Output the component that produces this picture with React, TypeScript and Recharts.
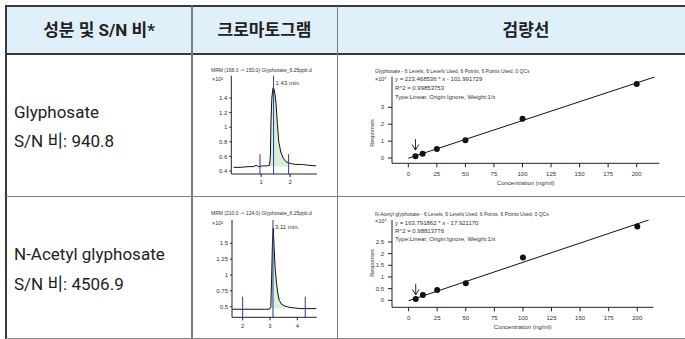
import React from 'react';
import {
  ComposedChart,
  ScatterChart,
  Scatter,
  Line,
  Area,
  XAxis,
  YAxis,
  ReferenceLine,
  ReferenceDot,
} from 'recharts';

// chromatogram 1 - MRM 168 -> 150 (x10^2)
const chrom1Time = [0.05, 0.3, 0.55, 0.75, 0.83, 0.9, 1.05, 1.2, 1.29, 1.32, 1.34, 1.37, 1.41, 1.44, 1.48, 1.52, 1.56, 1.61, 1.68, 1.76, 1.85, 1.95, 2.05, 2.2, 2.4, 2.6, 2.9];
const chrom1Signal = [0.45, 0.45, 0.46, 0.46, 0.48, 0.46, 0.47, 0.47, 0.48, 0.6, 1.07, 1.4, 1.54, 1.53, 1.45, 1.3, 1.05, 0.8, 0.66, 0.58, 0.53, 0.51, 0.5, 0.49, 0.49, 0.48, 0.47];
const chrom1Peak = [1.29, 1.95];
const chrom1Marks = [0.96, 1.95];
const chrom1XTicks = [1, 2];
const chrom1YTicks = [0.4, 0.6, 0.8, 1, 1.2, 1.4];

// chromatogram 2 - MRM 210 -> 124 (x10^2)
const chrom2Time = [1.62, 1.9, 2.2, 2.5, 2.8, 2.98, 3.03, 3.06, 3.09, 3.12, 3.15, 3.19, 3.24, 3.29, 3.34, 3.42, 3.55, 3.7, 3.9, 4.1, 4.3, 4.5, 4.7];
const chrom2Signal = [0.46, 0.46, 0.46, 0.46, 0.46, 0.46, 0.5, 0.95, 1.5, 1.74, 1.45, 1.1, 0.87, 0.7, 0.6, 0.54, 0.51, 0.49, 0.48, 0.47, 0.47, 0.47, 0.47];
const chrom2Peak = [3.02, 3.6];
const chrom2Marks = [2.0, 4.29];
const chrom2XTicks = [2, 3, 4];
const chrom2YTicks = [0.5, 0.75, 1, 1.25, 1.5];

// calibration (x10^4 responses)
const calConc = [6.25, 12.5, 25, 50, 100, 200];
const glyResp = [0.1, 0.25, 0.53, 1.05, 2.33, 4.38];
const acetylResp = [0.06, 0.23, 0.44, 0.73, 1.83, 3.16];
const glyFitX = [0, 216];
const glyFitY = [-0.01, 4.8];
const acetylFitX = [0, 210];
const acetylFitY = [-0.02, 3.44];
const calXTicks = [0, 25, 50, 75, 100, 125, 150, 175, 200];
const glyYTicks = [0, 1, 2, 3];
const acetylYTicks = [0, 0.5, 1, 1.5, 2, 2.5];

const TABLE_FONT = 'Roboto, "Noto Sans CJK KR", sans-serif';
const CHART_FONT = '"Liberation Sans", Arial, sans-serif';
const MARK_BLUE = '#2e3b96';

function Txt({ x, y, size, children, bold = false, center = false, color = '#222', font = TABLE_FONT }: any) {
  return (
    <div
      style={{
        position: 'absolute',
        left: x,
        top: y - size / 2,
        fontSize: size,
        lineHeight: `${size}px`,
        fontWeight: bold ? 700 : 400,
        fontFamily: font,
        color,
        whiteSpace: 'nowrap',
        transform: center ? 'translateX(-50%)' : undefined,
      }}
    >
      {children}
    </div>
  );
}

function Chromatogram({ left, top, width, height, mt, mr, xh, yw, time, signal, peak, marks, markTop, apex, apexText, xDomain, yDomain, xTicks, yTicks, base }: any) {
  const data = time.map((t: number, i: number) => ({
    t,
    v: signal[i],
    area: t >= peak[0] && t <= peak[1] ? signal[i] : null,
  }));
  const tick = { fontSize: 6, fill: '#333', fontFamily: CHART_FONT };
  return (
    <div style={{ position: 'absolute', left, top }}>
      <ComposedChart width={width} height={height} data={data} margin={{ top: mt, right: mr, bottom: 0, left: 0 }}>
        <XAxis type="number" dataKey="t" domain={xDomain} ticks={xTicks} allowDataOverflow height={xh} tickSize={3} tickMargin={3} tick={tick} stroke="#222" interval={0} />
        <YAxis type="number" domain={yDomain} ticks={yTicks} allowDataOverflow width={yw} tickSize={2} tickMargin={2} tick={tick} stroke="#222" interval={0} />
        <Area dataKey="area" baseValue={base} fill="#d7f0d9" fillOpacity={1} stroke="none" connectNulls={false} isAnimationActive={false} />
        <Line dataKey="v" stroke="#111" strokeWidth={1} dot={false} isAnimationActive={false} />
        {marks.map((m: number) => (
          <ReferenceLine key={m} segment={[{ x: m, y: yDomain[0] }, { x: m, y: markTop }]} stroke={MARK_BLUE} strokeWidth={1} ifOverflow="visible" />
        ))}
        <ReferenceLine
          x={apex}
          stroke={MARK_BLUE}
          strokeWidth={1}
          label={(p: any) => {
            const vb = p.viewBox || {};
            const x = vb.x ?? vb.x1 ?? 0;
            const y = vb.y ?? vb.y1 ?? 0;
            return (
              <text x={x + 2} y={y + 9} fontSize={6} fill="#333" fontFamily={CHART_FONT}>
                {apexText}
              </text>
            );
          }}
        />
      </ComposedChart>
    </div>
  );
}

function Arrow(p: any) {
  const { cx, cy } = p;
  return (
    <g stroke="#111" strokeWidth={0.9} fill="none">
      <line x1={cx} y1={cy - 11} x2={cx} y2={cy} />
      <polyline points={`${cx - 3.3},${cy - 5.5} ${cx},${cy} ${cx + 3.3},${cy - 5.5}`} />
    </g>
  );
}

function Calibration({ left, top, width, height, mt, mr, xh, resp, fitX, fitY, xDomain, yDomain, yTicks, arrowY, respY }: any) {
  const points = calConc.map((x, i) => ({ x, y: resp[i] }));
  const fit = fitX.map((x: number, i: number) => ({ x, y: fitY[i] }));
  const tick = { fontSize: 6, fill: '#333', fontFamily: CHART_FONT };
  return (
    <div style={{ position: 'absolute', left, top }}>
      <ScatterChart width={width} height={height} margin={{ top: mt, right: mr, bottom: 0, left: 0 }}>
        <XAxis
          type="number"
          dataKey="x"
          domain={xDomain}
          ticks={calXTicks}
          allowDataOverflow
          interval={0}
          height={xh}
          tickSize={4}
          tickMargin={4}
          tick={tick}
          stroke="#222"
          label={(p: any) => {
            const vb = p.viewBox || {};
            return (
              <text x={vb.x + vb.width / 2} y={vb.y + 22} fontSize={6} fill="#333" textAnchor="middle" fontFamily={CHART_FONT}>
                Concentration (ng/ml)
              </text>
            );
          }}
        />
        <YAxis
          type="number"
          dataKey="y"
          domain={yDomain}
          ticks={yTicks}
          allowDataOverflow
          interval={0}
          width={42}
          tickSize={4}
          tickMargin={4}
          tick={tick}
          stroke="#222"
          label={() => {
            const x = 23.5;
            const y = respY - top;
            return (
              <text x={x} y={y} fontSize={5.5} fill="#333" textAnchor="middle" transform={`rotate(-90 ${x} ${y})`} fontFamily={CHART_FONT}>
                Responses
              </text>
            );
          }}
        />
        <Scatter data={fit} line={{ stroke: '#111', strokeWidth: 1 }} shape={() => <g />} isAnimationActive={false} />
        <Scatter data={points} shape={(p: any) => <circle cx={p.cx} cy={p.cy} r={3} fill="#111" />} isAnimationActive={false} />
        <ReferenceDot x={calConc[0]} y={arrowY} shape={Arrow} ifOverflow="visible" />
      </ScatterChart>
    </div>
  );
}

export default function App() {
  return (
    <div style={{ position: 'absolute', left: 0, top: 0, width: 685, height: 339, overflow: 'hidden', background: '#fff' }}>
      {/* header band */}
      <div style={{ position: 'absolute', left: 6, top: 6, width: 700, height: 48, background: '#dff0fa' }} />
      {/* grid lines */}
      <div style={{ position: 'absolute', left: 5, top: 5, width: 700, height: 2, background: '#3a3a3a' }} />
      <div style={{ position: 'absolute', left: 5, top: 53, width: 700, height: 2, background: '#3a3a3a' }} />
      <div style={{ position: 'absolute', left: 5, top: 5, width: 2, height: 334, background: '#3a3a3a' }} />
      <div style={{ position: 'absolute', left: 191, top: 6, width: 1.5, height: 332, background: '#7c7c7c' }} />
      <div style={{ position: 'absolute', left: 336.5, top: 6, width: 1.5, height: 332, background: '#7c7c7c' }} />
      <div style={{ position: 'absolute', left: 6, top: 195.5, width: 700, height: 1.5, background: '#7c7c7c' }} />
      <div style={{ position: 'absolute', left: 6, top: 337.5, width: 700, height: 1.5, background: '#8a8a8a' }} />

      <Txt x={99} y={30} size={17} bold center>성분 및 S/N 비*</Txt>
      <Txt x={264.5} y={30} size={17} bold center>크로마토그램</Txt>
      <Txt x={526} y={30} size={17} bold center>검량선</Txt>

      <Txt x={14} y={112} size={17}>Glyphosate</Txt>
      <Txt x={14} y={141} size={17}>S/N 비: 940.8</Txt>
      <Txt x={14} y={254} size={17}>N-Acetyl glyphosate</Txt>
      <Txt x={14} y={284} size={17}>S/N 비: 4506.9</Txt>

      {/* chromatograms */}
      <Txt x={211} y={70} size={5} color="#333" font={CHART_FONT}>MRM (168.0 -&gt; 150.0) Glyphosate_6.25ppb.d</Txt>
      <Txt x={212} y={79.5} size={5.5} color="#333" font={CHART_FONT}>×10²</Txt>
      <Chromatogram
        left={200} top={72} width={124} height={118} mt={3.7} mr={7} xh={16} yw={31.3}
        time={chrom1Time} signal={chrom1Signal} peak={chrom1Peak} marks={chrom1Marks} markTop={0.63}
        apex={1.43} apexText="1.43 min." xDomain={[-0.03, 2.93]} yDomain={[0.359, 1.705]}
        xTicks={chrom1XTicks} yTicks={chrom1YTicks} base={0.46}
      />
      <Txt x={211} y={213} size={5} color="#333" font={CHART_FONT}>MRM (210.0 -&gt; 124.0) Glyphosate_6.25ppb.d</Txt>
      <Txt x={212} y={223.3} size={5.5} color="#333" font={CHART_FONT}>×10²</Txt>
      <Chromatogram
        left={200} top={216} width={124} height={118} mt={4} mr={7.3} xh={16.7} yw={32}
        time={chrom2Time} signal={chrom2Signal} peak={chrom2Peak} marks={chrom2Marks} markTop={0.66}
        apex={3.11} apexText="3.11 min." xDomain={[1.61, 4.71]} yDomain={[0.333, 1.867]}
        xTicks={chrom2XTicks} yTicks={chrom2YTicks} base={0.47}
      />

      {/* calibration curves */}
      <Txt x={375} y={71} size={5} color="#333" font={CHART_FONT}>Glyphosate - 6 Levels, 6 Levels Used, 6 Points, 6 Points Used, 0 QCs</Txt>
      <Txt x={375} y={79.5} size={5.5} color="#333" font={CHART_FONT}>×10⁴</Txt>
      <Txt x={395} y={79} size={6} color="#333" font={CHART_FONT}>y = 223.468536 * x  - 101.991729</Txt>
      <Txt x={395} y={87.5} size={6} color="#333" font={CHART_FONT}>R^2 = 0.99853753</Txt>
      <Txt x={395} y={96.5} size={6} color="#333" font={CHART_FONT}>Type:Linear, Origin:Ignore, Weight:1/x</Txt>
      <Calibration
        left={350} top={70} width={320} height={120} mt={6.7} mr={10.7} xh={26.7}
        resp={glyResp} fitX={glyFitX} fitY={glyFitY}
        xDomain={[-14.3, 219.8]} yDomain={[-0.31, 4.81]} yTicks={glyYTicks} arrowY={0.47} respY={133}
      />

      <Txt x={375} y={214} size={5} color="#333" font={CHART_FONT}>N-Acetyl glyphosate - 6 Levels, 6 Levels Used, 6 Points, 6 Points Used, 0 QCs</Txt>
      <Txt x={375} y={222} size={5.5} color="#333" font={CHART_FONT}>×10⁴</Txt>
      <Txt x={395} y={222.7} size={6} color="#333" font={CHART_FONT}>y = 163.791862 * x  - 17.921170</Txt>
      <Txt x={395} y={230.7} size={6} color="#333" font={CHART_FONT}>R^2 = 0.98813776</Txt>
      <Txt x={395} y={238.7} size={6} color="#333" font={CHART_FONT}>Type:Linear, Origin:Ignore, Weight:1/x</Txt>
      <Calibration
        left={350} top={214} width={320} height={120} mt={6} mr={16.7} xh={26.7}
        resp={acetylResp} fitX={acetylFitX} fitY={acetylFitY}
        xDomain={[-14.5, 214]} yDomain={[-0.3, 3.44]} yTicks={acetylYTicks} arrowY={0.23} respY={263}
      />
    </div>
  );
}
